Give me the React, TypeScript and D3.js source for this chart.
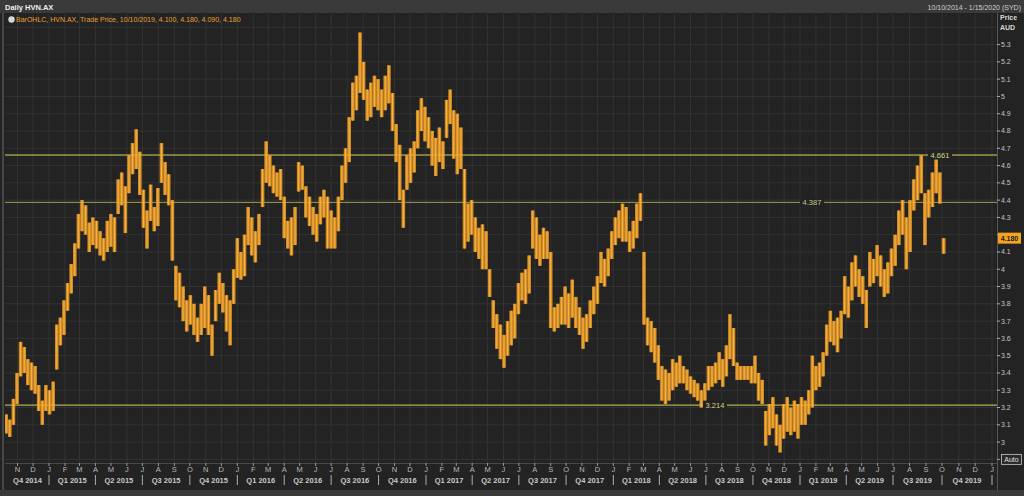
import React from "react";
import * as d3 from "d3";

// ---------- data ----------
const startDate = new Date(2014, 9, 10); // first weekly bar (Fri 10 Oct 2014)
const weekHigh = [
  3.16, 3.13, 3.25, 3.40, 3.58, 3.55, 3.48, 3.46, 3.44, 3.33,
  3.24, 3.33, 3.30, 3.35, 3.68, 3.72, 3.82, 3.92, 4.03, 4.15,
  4.32, 4.40, 4.37, 4.27, 4.30, 4.28, 4.22, 4.18, 4.28, 4.32,
  4.30, 4.52, 4.56, 4.48, 4.66, 4.73, 4.81, 4.68, 4.46, 4.34,
  4.49, 4.36, 4.47, 4.73, 4.62, 4.55, 4.40, 4.02, 3.98, 3.90,
  3.82, 3.85, 3.80, 3.72, 3.80, 3.90, 3.85, 3.68, 3.88, 3.98,
  3.92, 3.85, 3.82, 4.00, 4.18, 4.10, 4.20, 4.36, 4.30, 4.22,
  4.32, 4.58, 4.74, 4.66, 4.60, 4.56, 4.58, 4.42, 4.28, 4.30,
  4.36, 4.62, 4.60, 4.48, 4.42, 4.36, 4.32, 4.42, 4.46, 4.42,
  4.34, 4.30, 4.42, 4.60, 4.70, 4.88, 5.08, 5.12, 5.37, 5.20,
  5.04, 5.08, 5.12, 5.10, 5.04, 5.12, 5.18, 5.02, 4.84, 4.72,
  4.46, 4.66, 4.70, 4.74, 4.92, 4.99, 4.94, 4.88, 4.80, 4.76,
  4.82, 4.74, 4.98, 5.04, 4.92, 4.90, 4.82, 4.58, 4.38, 4.40,
  4.30, 4.24, 4.26, 4.22, 4.00, 3.82, 3.74, 3.68, 3.62, 3.70,
  3.76, 3.80, 3.92, 3.98, 4.00, 4.08, 4.34, 4.30, 4.20, 4.24,
  4.22, 4.10, 3.78, 3.80, 3.84, 3.90, 3.86, 3.94, 3.84, 3.78,
  3.72, 3.74, 3.82, 3.90, 3.96, 4.10, 4.06, 4.12, 4.22, 4.30,
  4.34, 4.38, 4.36, 4.22, 4.28, 4.38, 4.44, 4.10, 3.72, 3.70,
  3.66, 3.56, 3.44, 3.42, 3.40, 3.48, 3.46, 3.50, 3.44, 3.42,
  3.38, 3.36, 3.34, 3.30, 3.34, 3.44, 3.44, 3.46, 3.52, 3.48,
  3.56, 3.74, 3.66, 3.46, 3.44, 3.44, 3.44, 3.44, 3.50, 3.40,
  3.36, 3.18, 3.22, 3.26, 3.16, 3.10, 3.22, 3.26, 3.20, 3.24,
  3.22, 3.26, 3.24, 3.30, 3.50, 3.44, 3.46, 3.52, 3.68, 3.76,
  3.70, 3.72, 3.76, 3.96, 3.90, 4.04, 4.08, 4.00, 3.96, 3.88,
  4.10, 4.06, 4.14, 4.08, 4.00, 4.04, 4.12, 4.20, 4.34, 4.40,
  4.30, 4.40, 4.52, 4.60, 4.66, 4.44, 4.46, 4.56, 4.64, 4.56,
  4.18,
];
const weekLow = [
  3.05, 3.03, 3.10, 3.22, 3.38, 3.40, 3.33, 3.30, 3.28, 3.18,
  3.10, 3.18, 3.16, 3.18, 3.42, 3.56, 3.62, 3.76, 3.86, 3.96,
  4.12, 4.22, 4.20, 4.10, 4.14, 4.12, 4.08, 4.05, 4.10, 4.13,
  4.10, 4.32, 4.37, 4.21, 4.44, 4.55, 4.58, 4.43, 4.24, 4.12,
  4.28, 4.22, 4.25, 4.50, 4.43, 4.37, 4.05, 3.82, 3.78, 3.70,
  3.64, 3.68, 3.62, 3.58, 3.62, 3.66, 3.62, 3.50, 3.70, 3.80,
  3.75, 3.64, 3.56, 3.80, 3.95, 3.94, 3.96, 4.14, 4.08, 4.04,
  4.14, 4.36, 4.50, 4.48, 4.44, 4.42, 4.40, 4.18, 4.12, 4.08,
  4.14, 4.45, 4.46, 4.30, 4.25, 4.20, 4.16, 4.26, 4.30, 4.12,
  4.12, 4.12, 4.22, 4.40, 4.50, 4.62, 4.86, 4.92, 5.02, 4.98,
  4.86, 4.88, 4.94, 4.92, 4.88, 4.92, 4.96, 4.80, 4.62, 4.40,
  4.24, 4.46, 4.50, 4.56, 4.70, 4.80, 4.74, 4.70, 4.60, 4.54,
  4.62, 4.58, 4.76, 4.84, 4.64, 4.55, 4.58, 4.12, 4.16, 4.20,
  4.10, 4.06, 4.00, 4.00, 3.84, 3.66, 3.54, 3.48, 3.43, 3.50,
  3.56, 3.60, 3.74, 3.82, 3.80, 3.86, 4.12, 4.06, 4.02, 4.06,
  4.06, 3.66, 3.64, 3.66, 3.68, 3.68, 3.66, 3.72, 3.66, 3.62,
  3.54, 3.58, 3.66, 3.74, 3.80, 3.92, 3.90, 3.96, 4.06, 4.14,
  4.18, 4.16, 4.16, 4.10, 4.12, 4.18, 4.28, 3.68, 3.56, 3.52,
  3.46, 3.36, 3.24, 3.22, 3.24, 3.30, 3.32, 3.34, 3.34, 3.30,
  3.28, 3.26, 3.24, 3.20, 3.22, 3.30, 3.32, 3.34, 3.36, 3.32,
  3.38, 3.48, 3.44, 3.36, 3.36, 3.36, 3.36, 3.34, 3.34, 3.24,
  3.22, 2.98, 3.04, 3.08, 2.98, 2.94, 3.02, 3.06, 3.04, 3.06,
  3.02, 3.10, 3.10, 3.16, 3.20, 3.30, 3.32, 3.38, 3.50, 3.58,
  3.56, 3.52, 3.60, 3.74, 3.72, 3.82, 3.90, 3.84, 3.80, 3.66,
  3.90, 3.92, 3.96, 3.90, 3.84, 3.86, 3.96, 4.02, 4.14, 4.20,
  4.00, 4.10, 4.34, 4.40, 4.44, 4.14, 4.30, 4.36, 4.44, 4.38,
  4.09,
];
const levelValues = [4.661, 4.387, 3.214];
const levelLabels = ["4.661", "4.387", "3.214"];
const lastPrice = 4.18;
const lastPriceLabel = "4.180";
const yTickValues = d3.range(29, 55).map((d) => d / 10);
const monthLetters = ["J", "F", "M", "A", "M", "J", "J", "A", "S", "O", "N", "D"];
const titleText = "Daily HVN.AX";
const rangeText = "10/10/2014 - 1/15/2020 (SYD)";
const legendText = "BarOHLC, HVN.AX, Trade Price, 10/10/2019, 4.100, 4.180, 4.090, 4.180";

// ---------- layout ----------
const W = 1024;
const H = 496;
const L = 5;
const R = 997;
const T = 14;
const B = 463;

const BG = "#232323";
const GRID = "#333333";
const ORANGE = "#f0a02c";
const FONT = "'Liberation Sans', Arial, sans-serif";

export default function App() {
  const x = d3
    .scaleTime()
    .domain([
      new Date(2015, 0, 1),
      new Date(2016, 0, 1),
      new Date(2017, 0, 1),
      new Date(2018, 0, 1),
      new Date(2019, 0, 1),
      new Date(2019, 6, 1),
      new Date(2019, 9, 1),
      new Date(2020, 0, 1),
    ])
    .range([49, 237.3, 426, 613.3, 800, 893, 942, 992]);
  const y = d3.scaleLinear().domain([2.879, 5.477]).range([B, T]);

  const months = d3.timeMonth.range(new Date(2014, 10, 1), new Date(2020, 0, 2));
  const quarters = d3.timeMonth.every(3)!.range(new Date(2014, 9, 1), new Date(2020, 0, 1));
  const fmt = d3.format("~g");
  const levelLabelX = [940, 812, 715];
  const levelColors = ["#d6d65a", "#9c9c52", "#d6d65a"];
  const levelTextColors = ["#d8d88a", "#c8c884", "#d8d88a"];
  const priceY = y(lastPrice);

  return (
    <svg
      width={W}
      height={H}
      style={{ position: "absolute", left: 0, top: 0, display: "block", background: BG }}
      fontFamily={FONT}
    >
      <rect x={0} y={0} width={W} height={H} fill={BG} />
      <defs>
        <clipPath id="plot">
          <rect x={L} y={T} width={R - L} height={B - T} />
        </clipPath>
      </defs>

      {/* grid */}
      <g clipPath="url(#plot)">
        {months.map((m, i) => (
          <line key={"vg" + i} x1={x(m)} x2={x(m)} y1={T} y2={B} stroke={GRID} strokeWidth={1} />
        ))}
        {yTickValues.map((v, i) => (
          <line key={"hg" + i} x1={L} x2={R} y1={y(v)} y2={y(v)} stroke={GRID} strokeWidth={1} />
        ))}
      </g>

      {/* level lines */}
      {levelValues.map((v, i) => (
        <line key={"lv" + i} x1={L} x2={R} y1={y(v)} y2={y(v)} stroke={levelColors[i]} strokeWidth={1} />
      ))}

      {/* price bars (weekly high-low) */}
      <g clipPath="url(#plot)">
        {weekHigh.map((h, i) => {
          const d = d3.timeDay.offset(startDate, 7 * i);
          const d2 = d3.timeDay.offset(startDate, 7 * i + 7);
          const cx = x(d);
          const w = x(d2) - cx;
          const y1 = y(h);
          const y2 = y(weekLow[i]);
          return (
            <g key={"b" + i}>
              <rect x={cx - w / 2} y={y1} width={w} height={Math.max(1, y2 - y1)} fill={ORANGE} opacity={0.85} />
              <line x1={cx} x2={cx} y1={y1} y2={y2} stroke="#ffb437" strokeWidth={1} />
            </g>
          );
        })}
      </g>

      {/* level labels */}
      {levelValues.map((v, i) => (
        <g key={"ll" + i}>
          <rect x={levelLabelX[i] - 12} y={y(v) - 4.5} width={24} height={9} fill={BG} />
          <text
            x={levelLabelX[i]}
            y={y(v)}
            dy="0.35em"
            textAnchor="middle"
            fontSize={7.5}
            fill={levelTextColors[i]}
          >
            {levelLabels[i]}
          </text>
        </g>
      ))}

      {/* header */}
      <rect x={0} y={0} width={W} height={13} fill="#3a3a3a" />
      <text x={5} y={9.5} fontSize={7.5} fontWeight="bold" fill="#eeeeee">
        {titleText}
      </text>
      <text x={1021} y={9.5} fontSize={7} textAnchor="end" fill="#d0d0d0">
        {rangeText}
      </text>

      {/* legend */}
      <circle cx={11.5} cy={19.5} r={3.2} fill="#d8d8d8" />
      <text x={16} y={22} fontSize={7} fill="#e8a032">
        {legendText}
      </text>

      {/* frame */}
      <line x1={3} x2={3} y1={13} y2={490} stroke="#555" strokeWidth={1.5} />
      <line x1={L} x2={R} y1={B + 0.5} y2={B + 0.5} stroke="#484848" />
      <line x1={R + 0.5} x2={R + 0.5} y1={13} y2={490} stroke="#555" />

      {/* right axis */}
      <text x={1000} y={20} fontSize={7} fontWeight="bold" fill="#d8d8d8">
        Price
      </text>
      <text x={1000} y={30} fontSize={7} fontWeight="bold" fill="#d8d8d8">
        AUD
      </text>
      {yTickValues
        .filter((v) => v >= 2.95 && v <= 5.35)
        .map((v, i) => (
          <g key={"yt" + i}>
            <line x1={R} x2={R + 3} y1={y(v)} y2={y(v)} stroke="#aaa" />
            {Math.abs(y(v) - priceY) > 9 && (
              <text x={R + 4} y={y(v)} dy="0.35em" fontSize={7} fill="#c4c4c4">
                {fmt(v)}
              </text>
            )}
          </g>
        ))}
      <line x1={R} x2={R + 3} y1={y(2.9)} y2={y(2.9)} stroke="#aaa" />
      <rect x={1001.5} y={y(2.9) - 5} width={20} height={10} fill="#2a2a2a" stroke="#c8c8c8" strokeWidth={0.8} />
      <text x={1011.5} y={y(2.9)} dy="0.35em" textAnchor="middle" fontSize={7} fill="#e0e0e0">
        Auto
      </text>
      <rect x={R + 1} y={priceY - 5.5} width={23} height={11} fill="#f4a321" />
      <text x={R + 12.5} y={priceY} dy="0.35em" textAnchor="middle" fontSize={7} fontWeight="bold" fill="#1a1a1a">
        {lastPriceLabel}
      </text>

      {/* bottom axis */}
      {months.map((m, i) => (
        <g key={"mt" + i}>
          <line x1={x(m)} x2={x(m)} y1={B} y2={B + 3} stroke="#999" />
          <text x={x(m)} y={472} textAnchor="middle" fontSize={7.5} fill="#b8b8b8">
            {monthLetters[m.getMonth()]}
          </text>
        </g>
      ))}
      {quarters.map((q, i) => {
        const nq = d3.timeMonth.offset(q, 3);
        const x0 = Math.max(x(q), 6);
        const x1 = x(nq);
        const label = `Q${Math.floor(q.getMonth() / 3) + 1} ${q.getFullYear()}`;
        return (
          <g key={"q" + i}>
            <text x={(x0 + x1) / 2} y={483} textAnchor="middle" fontSize={7.5} fontWeight="bold" fill="#c8c8c8">
              {label}
            </text>
            <line x1={x1} x2={x1} y1={475} y2={485} stroke="#b0b0b0" />
          </g>
        );
      })}
      <rect x={0} y={490} width={W} height={6} fill="#3a3a3a" />
    </svg>
  );
}
